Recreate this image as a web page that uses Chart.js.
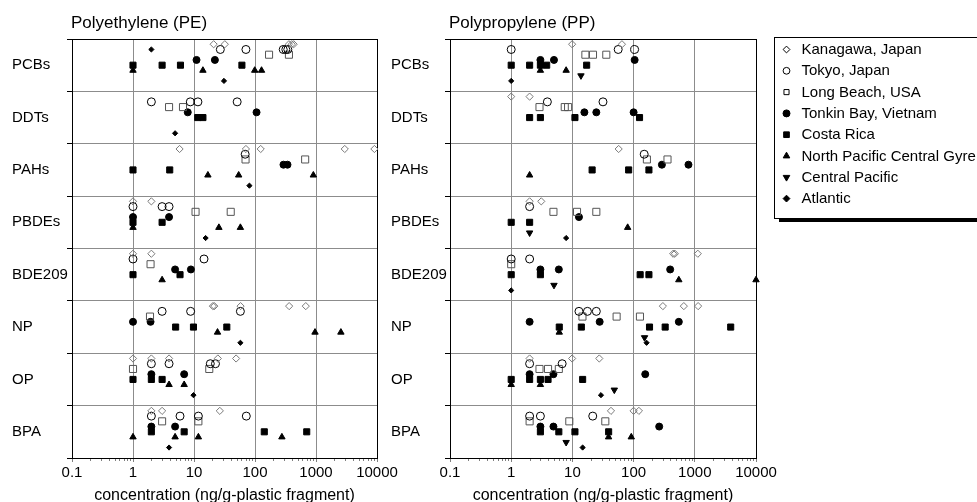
<!DOCTYPE html>
<html><head><meta charset="utf-8">
<script src="https://cdn.jsdelivr.net/npm/chart.js@4/dist/chart.umd.min.js"></script>
<style>
html,body{margin:0;padding:0;background:#fff;overflow:hidden;width:977px;height:502px}
.wrap{position:absolute;top:0}
canvas{display:block}
</style></head><body>
<div class="wrap" style="left:0"><canvas id="c1" width="410" height="502"></canvas></div>
<div class="wrap" style="left:380px"><canvas id="c2" width="597" height="502"></canvas></div>
<script>
const categories = ['PCBs','DDTs','PAHs','PBDEs','BDE209','NP','OP','BPA'];
const seriesNames = ['Kanagawa, Japan','Tokyo, Japan','Long Beach, USA','Tonkin Bay, Vietnam','Costa Rica','North Pacific Central Gyre','Central Pacific','Atlantic'];
const xTickValues = [0.1,1,10,100,1000,10000];
const xTickLabels = ['0.1','1','10','100','1000','10000'];
const panelTitles = ['Polyethylene (PE)','Polypropylene (PP)'];
const axisTitle = 'concentration (ng/g-plastic fragment)';

// Polyethylene (PE): per series, one list of values per category
const pe_kanagawa = [[21,32,360,400,430],[],[5.8,71,124,2960,9060],[1,2],[1,2],[20.4,21.5,58,363,680],[1,2,3.9,24.6,49],[2,3,26.5]];
const pe_tokyo    = [[27,71,290,320,345],[2,8.7,11.6,51],[69],[1,3,3.9],[1,14.6],[3,8.8,57.6],[2,3.9,18.5,22.5],[2,5.9,11.8,72]];
const pe_longBeach= [[170,360],[3.9,6.6],[70,664],[10.6,40],[1.94],[1.9],[1,17.8],[3,11.8]];
const pe_tonkin   = [[11,22],[7.9,106],[293,341],[1,3.9],[4.9,8.9],[1,1.94],[2,6.9],[2,4.9]];
const pe_costaRica= [[1,3,6,61],[11.5,14],[1,4],[1,3],[1,5.9],[5,9.8,34.5],[1,2,3],[2,6.9,142,705]];
const pe_npcg     = [[1,14,99,128],[],[16.9,54,905],[1,25.6,57.6],[3],[24.3,963,2560],[3.9,6.9],[1,4.9,11.8,276]];
const pe_central  = [[],[],[],[],[],[],[],[]];
const pe_atlantic = [[31],[4.9],[81],[15.5],[],[57.6],[9.8],[3.9]];
const pe_atlanticRaised = [[2],[],[],[],[],[],[],[]];

// Polypropylene (PP)
const pp_kanagawa = [[9.9,64.5],[1,2],[57],[2,3.1],[443,472,1120],[301,662,1133],[2,9.9,27.5],[42.7,100,122]];
const pp_tokyo    = [[1,56,104],[3.9,31.6],[149],[2],[1,2],[12.8,17.6,24.6],[2,6.8],[2,3,21.5]];
const pp_longBeach= [[16.3,21.7,35.8],[2.9,7.5,8.5],[165,358],[4.9,11.9,24.6],[1],[14.6,52.8,127],[2.9,4,6],[2,8.9,34.5]];
const pp_tonkin   = [[3,5,104],[15.7,24.6,100],[290,788],[12.8],[3,6,396],[2,27.9,548],[2,4.9,155],[3,4.9,262]];
const pp_costaRica= [[1,2,3,3.8,17.1],[2,3,11,125],[21,83,178],[1,2],[1,3,128,178],[6.1,14,182,328,3860],[1,2,3,4,14.7],[3,6,11,39.1]];
const pp_npcg     = [[3,7.9],[],[2],[80],[548,10000],[6.1],[1,3],[39,91.6]];
const pp_central  = [[13.8],[],[],[2],[5],[151],[48.4],[7.9]];
const pp_atlantic = [[1],[],[],[7.9],[1],[163],[29.3],[14.7]];

const peSeries = [pe_kanagawa,pe_tokyo,pe_longBeach,pe_tonkin,pe_costaRica,pe_npcg,pe_central,pe_atlantic];
const ppSeries = [pp_kanagawa,pp_tokyo,pp_longBeach,pp_tonkin,pp_costaRica,pp_npcg,pp_central,pp_atlantic];

const FONT = '"Liberation Sans", Arial, sans-serif';
const rowOffsets = [0.1,0.2,0.3,0.4,0.5,0.6,0.7,0.8];
const NONE = 'rgba(255,255,255,0)';
const markerStyles = [
  {style:'rectRot', r:3.6, rot:0, bg:NONE, bc:'#7a7a7a'},
  {style:'circle', r:4.0, rot:0, bg:NONE, bc:'#000'},
  {style:'rect', r:5.0, rot:0, bg:NONE, bc:'#555'},
  {style:'circle', r:3.5, rot:0, bg:'#000', bc:'#000'},
  {style:'rect', r:4.3, rot:0, bg:'#000', bc:'#000'},
  {style:'triangle', r:3.7, rot:0, bg:'#000', bc:'#000'},
  {style:'triangle', r:3.7, rot:180, bg:'#000', bc:'#000'},
  {style:'rectRot', r:2.6, rot:0, bg:'#000', bc:'#000'}
];

function toPoints(perCat, row){
  const pts = [];
  perCat.forEach((vals, c) => vals.forEach(v => pts.push({x:v, y:c + row})));
  return pts;
}
function makeDataset(pts, m){
  return {data:pts, pointStyle:m.style, pointRotation:m.rot, pointRadius:m.r, pointHoverRadius:m.r,
    pointBackgroundColor:m.bg, pointBorderColor:m.bc, pointBorderWidth:1, clip:false, showLine:false};
}

function drawMarker(ctx, m, x, y, r){
  ctx.beginPath();
  if (m.style === 'circle') { ctx.arc(x, y, r, 0, Math.PI*2); }
  else if (m.style === 'rect') { const s = r*Math.SQRT1_2; ctx.rect(x-s, y-s, 2*s, 2*s); }
  else if (m.style === 'rectRot') { ctx.moveTo(x, y-r); ctx.lineTo(x+r, y); ctx.lineTo(x, y+r); ctx.lineTo(x-r, y); ctx.closePath(); }
  else if (m.style === 'triangle') {
    let a = m.rot * Math.PI/180;
    for (let i=0;i<3;i++){ const px = x + Math.sin(a)*r, py = y - Math.cos(a)*r; if(i===0) ctx.moveTo(px,py); else ctx.lineTo(px,py); a += 2*Math.PI/3; }
    ctx.closePath();
  }
  ctx.fillStyle = m.bg; ctx.fill();
  ctx.lineWidth = 1; ctx.strokeStyle = m.bc; ctx.stroke();
}

const framePlugin = {
  id:'frame',
  beforeDatasetsDraw(chart){
    const {ctx, chartArea:a} = chart;
    const xs = chart.scales.x;
    ctx.save();
    ctx.strokeStyle = '#808080'; ctx.lineWidth = 1;
    for (let d=-1; d<4; d++) for (let k=2; k<10; k++){
      const px = Math.round(xs.getPixelForValue(k*Math.pow(10,d))) + 0.5;
      ctx.beginPath(); ctx.moveTo(px, a.bottom); ctx.lineTo(px, a.bottom+3); ctx.stroke();
    }
    ctx.strokeStyle = '#000';
    ctx.strokeRect(Math.round(a.left)+0.5, Math.round(a.top)+0.5, Math.round(a.right-a.left), Math.round(a.bottom-a.top));
    ctx.restore();
  },
  afterDraw(chart, args, opts){
    const {ctx, chartArea:a} = chart;
    ctx.save();
    ctx.fillStyle = '#000';
    ctx.font = '17px ' + FONT;
    ctx.textBaseline = 'alphabetic'; ctx.textAlign = 'left';
    ctx.fillText(opts.title, a.left - 1, 27.5);
    if (opts.legend) {
      const L = opts.legend;
      ctx.fillStyle = '#000';
      ctx.fillRect(L.x + 5, L.y + L.h, 400, 4);
      ctx.fillStyle = '#fff';
      ctx.fillRect(L.x, L.y, 400, L.h);
      ctx.strokeStyle = '#000'; ctx.lineWidth = 1;
      ctx.strokeRect(L.x + 0.5, L.y + 0.5, 400, L.h);
      ctx.font = '15px ' + FONT;
      ctx.textBaseline = 'middle';
      seriesNames.forEach((name, i) => {
        const y = L.y + 12.5 + i * 21.3;
        const m = Object.assign({}, markerStyles[i]);
        if (i === 0) m.bc = '#000';
        if (i === 2) m.bc = '#000';
        const lr = [3.4, 3.4, 3.6, 3.5, 4.0, 3.8, 3.8, 3.4][i];
        drawMarker(ctx, m, L.x + 12.5, y, lr);
        ctx.fillStyle = '#000';
        ctx.fillText(name, L.x + 27.5, y + 0.5);
      });
    }
    ctx.restore();
  }
};

function makeChart(id, seriesArr, extras, title, pad, yWidth, legend){
  const datasets = seriesArr.map((s, i) => makeDataset(toPoints(s, rowOffsets[i]), markerStyles[i]));
  extras.forEach(e => datasets.push(makeDataset(toPoints(e.values, rowOffsets[e.row]), markerStyles[e.series])));
  return new Chart(document.getElementById(id), {
    type:'scatter',
    data:{datasets},
    plugins:[framePlugin],
    options:{
      responsive:false, animation:false, devicePixelRatio:1,
      layout:{padding:pad},
      plugins:{legend:{display:false}, tooltip:{enabled:false}, frame:{title, legend}},
      scales:{
        x:{
          type:'logarithmic', min:0.1, max:10000,
          afterBuildTicks(scale){ scale.ticks = xTickValues.map(v => ({value:v, major:true})); },
          afterFit(scale){ scale.height = 44; },
          grid:{color:'#8c8c8c', lineWidth:1, tickLength:4, tickColor:'#808080'},
          border:{display:true, color:'#000'},
          ticks:{autoSkip:false, maxRotation:0, padding:2, color:'#000', font:{family:FONT, size:15},
            callback:(v, i) => xTickLabels[i]},
          title:{display:true, text:axisTitle, color:'#000', font:{family:FONT, size:16}, padding:{top:0, bottom:-3}}
        },
        y:{
          type:'linear', min:0, max:8, reverse:true,
          afterBuildTicks(scale){ const t=[]; for(let v=0; v<=8; v+=0.5) t.push({value:v}); scale.ticks = t; },
          afterFit(scale){ scale.width = yWidth; },
          grid:{color:(c) => Number.isInteger(c.tick.value) ? '#8c8c8c' : 'rgba(0,0,0,0)', lineWidth:1, tickLength:5,
            tickColor:(c) => Number.isInteger(c.tick.value) ? '#000' : 'rgba(0,0,0,0)'},
          border:{display:true, color:'#000'},
          ticks:{autoSkip:false, crossAlign:'far', color:'#000', font:{family:FONT, size:15},
            callback:(v) => Number.isInteger(v) ? '' : categories[Math.floor(v)]}
        }
      }
    }
  });
}

makeChart('c1', peSeries, [{values:pe_atlanticRaised, series:7, row:1}], panelTitles[0],
  {left:12, right:33, top:39, bottom:0}, 60, null);
makeChart('c2', ppSeries, [], panelTitles[1],
  {left:11, right:221, top:39, bottom:0}, 59, {x:394, y:37, h:181});
</script>
</body></html>
